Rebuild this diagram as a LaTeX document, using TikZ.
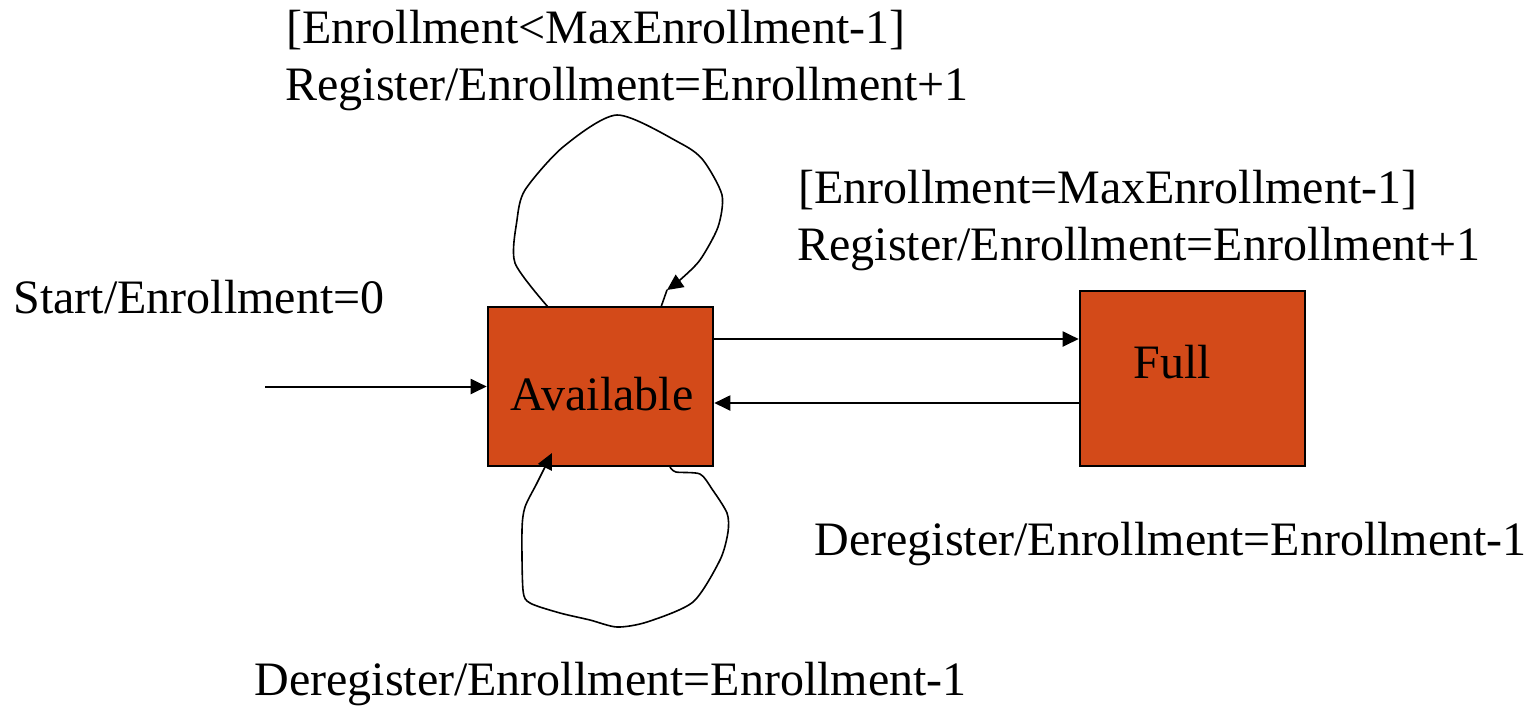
\documentclass[tikz,border=0pt]{standalone}
\usepackage{fontspec}
\setmainfont{Liberation Serif}
\usetikzlibrary{arrows.meta}
\definecolor{stfill}{RGB}{211,74,25}
\begin{document}
\begin{tikzpicture}[x=0.5pt,y=-0.5pt,
  statebox/.style={draw=black,line width=1.3pt,fill=stfill,minimum width=112.5pt,inner sep=0pt},
  lbl/.style={anchor=base west,inner sep=0pt,font=\fontsize{24}{28}\selectfont},
  conn/.style={line width=1pt,-{Triangle[length=8pt,width=7.5pt]}},
  loopline/.style={line width=0.8pt,line join=round,line cap=round}]
\useasboundingbox (0,0) rectangle (1526,709);
\node[statebox,minimum height=79.5pt] (avail) at (600.5,386.5) {};
\node[statebox,minimum height=87.5pt] (full) at (1192.5,378.5) {};
\node[lbl] (availtxt) at (510,410) {Available};
\node[lbl] (fulltxt) at (1133,378) {Full};
% labels
\node[lbl] (l1) at (286,43) {[Enrollment<MaxEnrollment-1]};
\node[lbl] (l2) at (285,100) {Register/Enrollment=Enrollment+1};
\node[lbl] (l3) at (798,203) {[Enrollment=MaxEnrollment-1]};
\node[lbl] (l4) at (797,260) {Register/Enrollment=Enrollment+1};
\node[lbl] (l5) at (13,313) {Start/Enrollment=0};
\node[lbl] (l6) at (814,555) {Deregister/Enrollment=Enrollment-1};
\node[lbl] (l7) at (254,695) {Deregister/Enrollment=Enrollment-1};
% connectors
\coordinate (start) at (265,386.5);
\coordinate (ya) at (0,339);
\coordinate (yb) at (0,403);
\draw[conn] (start) -- (avail);
\draw[conn] (avail.east |- ya) -- (full.west |- ya);
\draw[conn] (full.west |- yb) -- (avail.east |- yb);
% top self loop
\coordinate (tl0) at (548,307);
\coordinate (tl1) at (667,290);
\coordinate (tl2) at (661,307);
\draw[loopline,-{Triangle[length=8pt,width=7.5pt]}] plot[smooth,tension=0.45] coordinates {
  (548,307) (515,263) (517,220) (525,190) (563,147) (617,115) (680,143) (703,160)
  (722,195) (718,227) (700,260) (680,280) (667,290)};
\draw[loopline] (tl1) -- (tl2);
% bottom self loop
\draw[loopline,-{Triangle[length=8pt,width=7.5pt]}] plot[smooth,tension=0.45] coordinates {
  (670,467) (676,472) (700,474) (712,489) (727,513) (728,532) (720,560) (693,602)
  (647,622) (617,627) (590,620) (560,613) (530,603) (523,590) (522,530) (525,507)
  (537,483) (552,453)};
\end{tikzpicture}
\end{document}
